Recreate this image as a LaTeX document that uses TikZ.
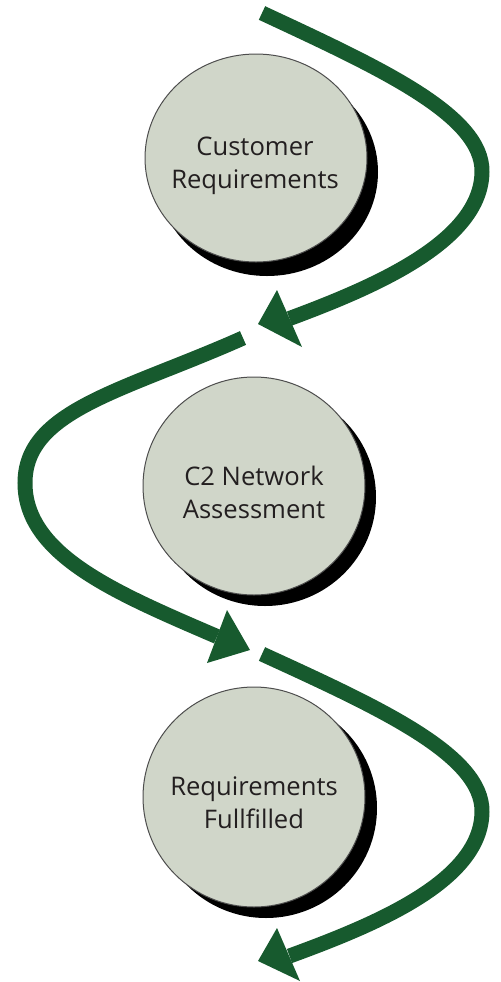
\documentclass[tikz,border=0pt]{standalone}
\usepackage{fontspec}
\setmainfont{Open Sans}
\usetikzlibrary{shapes.geometric}
\definecolor{arrowgreen}{HTML}{175A2E}
\definecolor{bubblefill}{HTML}{D0D6C9}
\definecolor{bubbleline}{HTML}{4D4D4D}
\definecolor{textgray}{HTML}{231F20}
\begin{document}
\begin{tikzpicture}[x=0.5pt,y=-0.5pt,
  bubble/.style={ellipse, fill=bubblefill, draw=bubbleline, line width=0.5pt, inner sep=0pt, minimum width=111pt},
  bubshadow/.style={ellipse, fill=black, inner sep=0pt, minimum width=111pt},
  label/.style={align=center, text=textgray, font=\fontsize{12.8}{16.5}\selectfont},
  shaft/.style={draw=arrowgreen, line width=7.5pt, line cap=butt},
  head/.style={fill=arrowgreen}]
\useasboundingbox (0,0) rectangle (500,982);

% shadows
\node[bubshadow, minimum height=104pt] (s1) at (267,172) {};
\node[bubshadow, minimum height=109pt] (s2) at (265,497) {};
\node[bubshadow, minimum height=110pt] (s3) at (266,808) {};
% bubbles
\node[bubble, minimum height=104pt] (c1) at (256,158) {};
\node[bubble, minimum height=109pt] (c2) at (254,486) {};
\node[bubble, minimum height=110pt] (c3) at (254,797) {};
% labels
\node[label] (t1) at (255,166) {Customer\\Requirements};
\node[label] (t2) at (254,492) {C2 Network\\Assessment};
\node[label] (t3) at (254,803) {Requirements\\Fullfilled};

% arrow 1
\coordinate (a1s) at (262,13);
\coordinate (a1m) at (482,172);
\coordinate (a1e) at (289.5,318.5);
\draw[shaft] (a1s) .. controls (380,68) and (483,115) .. (a1m) .. controls (481,240) and (380,285) .. (a1e);
\coordinate (h1t) at (258,324);
\coordinate (h1a) at (277,290);
\coordinate (h1b) at (302,347);
\fill[head] (h1t) -- (h1a) -- (h1b) -- cycle;

% arrow 2
\coordinate (a2s) at (243,338);
\coordinate (a2m) at (25,483);
\coordinate (a2e) at (217,636.5);
\draw[shaft] (a2s) .. controls (124,391) and (25,410) .. (a2m) .. controls (25,555) and (116,593) .. (a2e);
\coordinate (h2t) at (250,650);
\coordinate (h2a) at (227,610);
\coordinate (h2b) at (207,663);
\fill[head] (h2t) -- (h2a) -- (h2b) -- cycle;

% arrow 3
\coordinate (a3s) at (262,654);
\coordinate (a3m) at (482,812);
\coordinate (a3e) at (289.5,956);
\draw[shaft] (a3s) .. controls (380,708) and (483,755) .. (a3m) .. controls (481,880) and (380,923) .. (a3e);
\coordinate (h3t) at (258,961);
\coordinate (h3a) at (277,928);
\coordinate (h3b) at (300,981);
\fill[head] (h3t) -- (h3a) -- (h3b) -- cycle;
\end{tikzpicture}
\end{document}
